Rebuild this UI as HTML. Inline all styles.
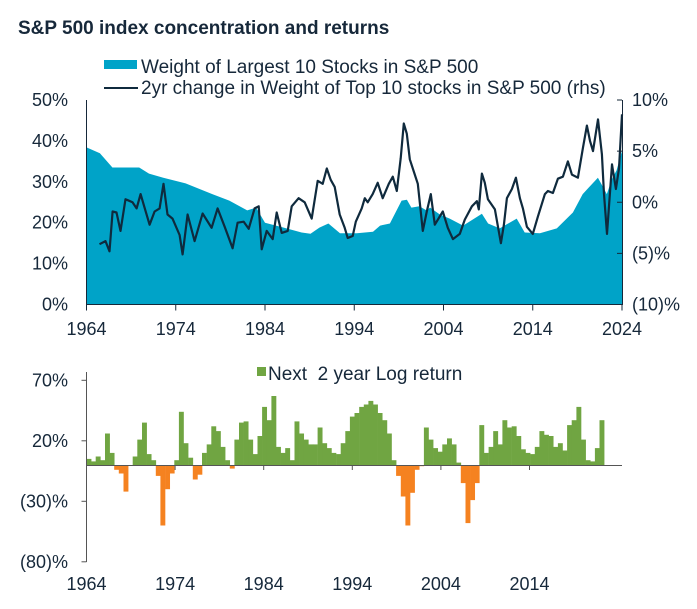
<!DOCTYPE html>
<html><head><meta charset="utf-8"><style>
body{margin:0;background:#fff;}
svg{display:block;font-family:"Liberation Sans",sans-serif;}
</style></head><body>
<svg id="c" width="697" height="609">
<text x="18" y="34" font-size="19" font-weight="bold" fill="#16283a">S&amp;P 500 index concentration and returns</text>
<g>
<rect x="104" y="60" width="33" height="9" fill="#00a3c8"/>
<text x="141" y="73" font-size="19" fill="#16283a">Weight of Largest 10 Stocks in S&amp;P 500</text>
<line x1="104" y1="88" x2="138" y2="88" stroke="#0f2a3d" stroke-width="2"/>
<text x="141" y="94" font-size="19" fill="#16283a">2yr change in Weight of Top 10 stocks in S&amp;P 500 (rhs)</text>
</g>
<g id="topg"></g>
<g>
<rect x="257" y="367" width="9" height="9" fill="#70a542"/>
<text x="268" y="380" font-size="19" fill="#16283a" xml:space="preserve" style="white-space:pre">Next  2 year Log return</text>
</g>
<g id="botg"></g>
</svg>
<script>
const areaYears=[1964,1965.5,1966.9,1969.9,1971.0,1972.6,1975.1,1978.1,1980.0,1982.0,1983.0,1984.0,1986.1,1988.1,1989.1,1990.1,1991.1,1992.4,1994.3,1996.1,1996.9,1998.0,1999.3,1999.9,2000.4,2001.3,2002.1,2002.5,2003.6,2004.7,2006.2,2008.3,2009.0,2010.3,2012.2,2013.1,2014.8,2016.7,2018.5,2019.6,2020.2,2021.3,2021.9,2022.3,2022.9,2023.4,2024.0];
const areaWeights=[38.4,37,33.5,33.5,32,31,29.6,27,25.4,23,23.7,20,18.8,17.6,17.3,18.8,19.8,17.4,17.4,17.8,19.3,19.8,25.4,25.6,23.7,24,23,23.7,22,21,19.3,22.2,19.8,18.6,21,17.6,17.4,18.6,22.5,27,28.4,31,28.6,27,30.8,32.8,37.6];
const lineYears=[1965.46,1966.13,1966.58,1966.92,1967.36,1967.81,1968.37,1969.15,1969.61,1970.06,1970.5,1971.07,1971.63,1972.19,1972.63,1973.08,1973.64,1974.43,1974.77,1975.33,1976.11,1977.01,1978.02,1978.69,1979.48,1980.37,1980.93,1981.61,1982.17,1982.84,1983.29,1983.63,1984.19,1984.86,1985.31,1985.87,1986.54,1986.99,1987.77,1988.45,1989.23,1989.9,1990.47,1990.92,1991.36,1991.81,1992.37,1992.93,1993.27,1993.83,1994.17,1994.84,1995.18,1995.51,1996.07,1996.63,1997.19,1997.87,1998.32,1998.77,1999.21,1999.55,1999.89,2000.22,2000.78,2001.12,2001.68,2002.13,2002.58,2003.03,2003.92,2004.48,2005.05,2005.83,2006.39,2007.18,2007.74,2007.96,2008.3,2008.63,2008.97,2009.76,2010.43,2010.77,2011.1,2011.66,2012.11,2012.56,2012.9,2013.34,2014.01,2014.58,2015.36,2015.7,2016.26,2016.82,2017.38,2017.94,2018.39,2019.06,2019.62,2020.07,2020.41,2020.75,2021.31,2021.75,2021.98,2022.32,2022.88,2023.32,2023.66,2024.0];
const lineChange=[-4.1,-3.8,-4.8,-0.9,-1.0,-2.8,0.3,0.0,-0.6,0.8,-0.5,-2.2,-0.9,-0.6,1.8,-1.2,-1.6,-3.2,-5.1,-1.2,-3.8,-1.1,-2.5,-0.6,-2.4,-4.5,-2.0,-1.9,-2.6,-0.6,-0.4,-4.6,-2.8,-3.6,-1.0,-3.0,-2.8,-0.4,0.4,0.0,-1.6,2.1,1.8,3.3,2.2,1.5,-1.2,-2.5,-3.5,-3.3,-1.9,-0.6,0.4,0.0,0.8,1.9,0.4,1.8,2.5,1.1,4.3,7.7,6.7,4.2,2.7,1.8,-2.8,-0.9,0.8,-2.2,-0.9,-2.5,-3.6,-3.1,-1.7,-0.4,0.1,-0.7,2.8,1.9,0.3,-0.7,-4.0,-2.2,0.4,1.3,2.4,0.4,-0.6,-2.4,-3.1,-1.4,0.8,1.1,0.9,2.3,2.5,4.0,2.7,2.4,5.3,7.5,6.0,5.0,8.1,4.7,0.8,-3.1,3.7,1.3,3.3,8.6];
const leftTicks=["0%","10%","20%","30%","40%","50%"];
const rightTicks=["(10)%","(5)%","0%","5%","10%"];
const rightTickVals=[-10,-5,0,5,10];
const yearTicks=[1964,1974,1984,1994,2004,2014,2024];
const barStart=1964.0, barStep=0.5216;
const barReturns=[5,3,7,4,26,10,-4,-7,-22,0,7,21,35,9,4,-9,-50,-20,-7,4,44,18,6,-12,-8,10,17,32,28,15,4,-3,21,35,36,21,9,24,48,37,57,15,10,14,4,36,26,21,17,17,31,18,14,10,9,18,28,40,43,48,50,53,50,43,37,26,4,-9,-26,-50,-23,-4,-1,31,21,14,11,17,22,17,2,-15,-48,-29,-15,33,10,15,28,17,37,31,32,24,13,10,9,15,28,25,24,15,18,12,33,37,48,21,4,3,14,37];
const botTicks=["(80)%","(30)%","20%","70%"];
const botTickVals=[-80,-30,20,70];
const botYearTicks=[1964,1974,1984,1994,2004,2014];

const NS="http://www.w3.org/2000/svg";
function mk(p,t,a){const e=document.createElementNS(NS,t);for(const k in a)e.setAttribute(k,a[k]);p.appendChild(e);return e;}
const topG=document.getElementById('topg'), botG=document.getElementById('botg');
const TX0=86.5,TX1=622,TY0=304.5,TY1=100;
const tx=y=>TX0+(y-1964)/60*(TX1-TX0);
const tyL=v=>TY0-v/50*(TY0-TY1);
const tyR=v=>TY0-(v+10)/20*(TY0-TY1);
let d=`M${tx(areaYears[0])},${TY0}`;
areaYears.forEach((y,i)=>{d+=`L${tx(y).toFixed(1)},${tyL(areaWeights[i]).toFixed(1)}`;});
d+=`L${tx(areaYears[areaYears.length-1])},${TY0}Z`;
const ar=mk(topG,'path',{d:d,fill:'#00a3c8'});


let ld='';
lineYears.forEach((y,i)=>{ld+=(i?'L':'M')+tx(y).toFixed(1)+','+tyR(lineChange[i]).toFixed(1);});
const ln=mk(topG,'path',{d:ld,fill:'none',stroke:'#0f2a3d','stroke-width':2.2,'stroke-linejoin':'round'});


const ax=mk(topG,'path',{d:`M${TX0},${TY1}V${TY0}H${TX1+0.5}V${TY1}`,fill:'none',stroke:'#16283a','stroke-width':1});


leftTicks.forEach((t,i)=>{const e=mk(topG,'text',{x:68,y:tyL(i*10)+6,'font-size':18,fill:'#16283a','text-anchor':'end'});e.textContent=t;

});
rightTicks.forEach((t,i)=>{const yy=tyR(rightTickVals[i]);mk(topG,'line',{x1:TX1-5,x2:TX1,y1:yy,y2:yy,stroke:'#16283a'});
const e=mk(topG,'text',{x:632,y:yy+6,'font-size':18,fill:'#16283a'});e.textContent=t;

});
yearTicks.forEach(y=>{const xx=tx(y);mk(topG,'line',{x1:xx,x2:xx,y1:TY0,y2:TY0+6,stroke:'#16283a'});
const e=mk(topG,'text',{x:xx,y:335,'font-size':18,fill:'#16283a','text-anchor':'middle'});e.textContent=y;

});
const BX0=86.5,BX1=622;
const bx=y=>BX0+(y-1964)*8.86;
const by=v=>465-v*1.21;
const bw=barStep*8.86;
barReturns.forEach((v,i)=>{const x=bx(barStart+i*barStep);
const r=mk(botG,'rect',{x:x.toFixed(1),y:Math.min(by(v),465).toFixed(1),width:(bw+0.3).toFixed(2),height:Math.abs(by(v)-465).toFixed(1),fill:v>=0?'#70a542':'#f58220'});

});
const bax=mk(botG,'path',{d:`M${BX0},372V562M${BX0},465.5H${BX1}`,fill:'none',stroke:'#555','stroke-width':1});


botTicks.forEach((t,i)=>{const yy=by(botTickVals[i]);mk(botG,'line',{x1:BX0-5,x2:BX0,y1:yy,y2:yy,stroke:'#555'});
const e=mk(botG,'text',{x:68,y:yy+6,'font-size':18,fill:'#16283a','text-anchor':'end'});e.textContent=t;

});
botYearTicks.forEach(y=>{const xx=bx(y);mk(botG,'line',{x1:xx,x2:xx,y1:465,y2:470,stroke:'#555'});});
botYearTicks.forEach(y=>{const e=mk(botG,'text',{x:bx(y),y:590,'font-size':18,fill:'#16283a','text-anchor':'middle'});e.textContent=y;

});
</script>
</body></html>
